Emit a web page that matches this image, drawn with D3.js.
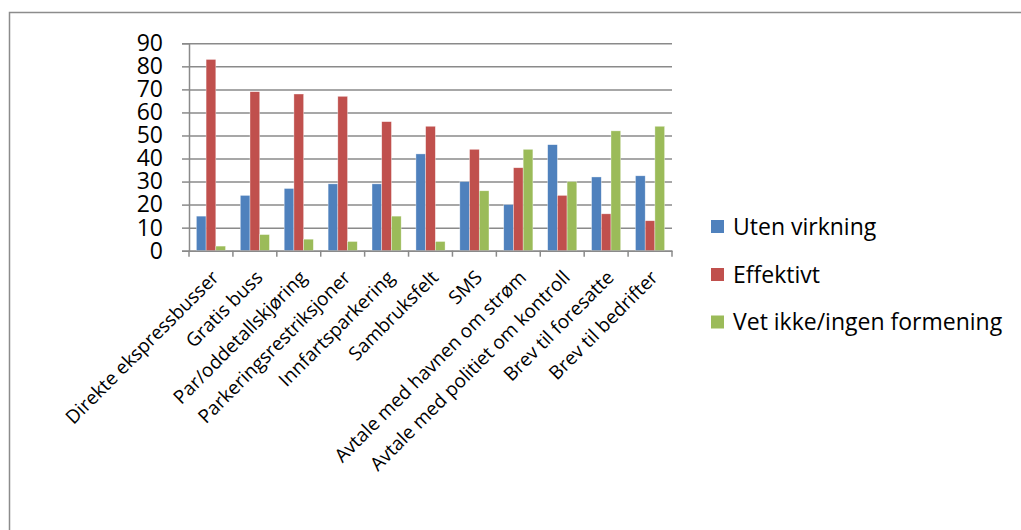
<!DOCTYPE html>
<html>
<head>
<meta charset="utf-8">
<script src="https://cdn.jsdelivr.net/npm/d3@7"></script>
<style>
  html, body { margin: 0; padding: 0; background: #fff; }
  svg { display: block; }
  text { font-family: "Open Sans", sans-serif; fill: #000; }
</style>
</head>
<body>
<svg id="chart" width="1021" height="530"></svg>
<script>
const categories = [
  "Direkte ekspressbusser", "Gratis buss", "Par/oddetallskjøring",
  "Parkeringsrestriksjoner", "Innfartsparkering", "Sambruksfelt", "SMS",
  "Avtale med havnen om strøm", "Avtale med politiet om kontroll",
  "Brev til foresatte", "Brev til bedrifter"
];
const seriesNames = ["Uten virkning", "Effektivt", "Vet ikke/ingen formening"];
const utenVirkning = [15, 24, 27, 29, 29, 42, 30, 20, 46, 32, 32.5];
const effektivt    = [83, 69, 68, 67, 56, 54, 44, 36, 24, 16, 13];
const vetIkke      = [2, 7, 5, 4, 15, 4, 26, 44, 30, 52, 54];
const yTicks = [0, 10, 20, 30, 40, 50, 60, 70, 80, 90];
const colors = ["#4F81BD", "#C0504D", "#9BBB59"];

const series = [utenVirkning, effektivt, vetIkke];
const svg = d3.select("#chart");

// outer chart border (only left/top visible in frame)
svg.append("rect").attr("x", 9.5).attr("y", 12.5).attr("width", 1200).attr("height", 700)
  .attr("fill", "none").attr("stroke", "#8c8c8c").attr("stroke-width", 1.5);

const plot = { left: 189, right: 672, top: 43.3, bottom: 250.7 };

const x0 = d3.scaleBand().domain(categories).range([plot.left, plot.right]).paddingInner(0).paddingOuter(0);
const x1 = d3.scaleBand().domain(d3.range(3)).range([0, x0.bandwidth()]).paddingOuter(0.76).paddingInner(0);
const y = d3.scaleLinear().domain([0, 90]).range([plot.bottom, plot.top]);

const gridColor = "#8a8a8a";

// gridlines + y ticks
const yAxis = d3.axisLeft(y).tickValues(yTicks).tickSize(7).tickPadding(19).tickFormat(d3.format("d"));
const gy = svg.append("g").attr("transform", `translate(${plot.left},0)`).call(yAxis);
gy.select(".domain").attr("stroke", gridColor).attr("stroke-width", 1.5);
gy.selectAll(".tick line").attr("stroke", gridColor).attr("stroke-width", 1.5);
gy.selectAll(".tick text").style("font-size", "23px").attr("fill", "#000");
gy.selectAll(".tick").append("line")
  .attr("x1", 0).attr("x2", plot.right - plot.left)
  .attr("stroke", gridColor).attr("stroke-width", 1.5);

// bars
const gBars = svg.append("g");
categories.forEach((c, i) => {
  series.forEach((s, k) => {
    gBars.append("rect")
      .attr("x", x0(c) + x1(k))
      .attr("y", y(s[i]))
      .attr("width", x1.bandwidth())
      .attr("height", y(0) - y(s[i]))
      .attr("fill", colors[k])
      .attr("stroke", "#ffffff").attr("stroke-opacity", 0.6).attr("stroke-width", 0.6);
  });
});

// x axis
const xAxis = d3.axisBottom(x0).tickSize(0).tickFormat("");
const gx = svg.append("g").attr("transform", `translate(0,${plot.bottom})`).call(xAxis);
gx.select(".domain").attr("stroke", gridColor).attr("stroke-width", 1.5);
gx.selectAll(".tick").remove();
const boundaries = categories.map(c => x0(c)).concat([plot.right]);
gx.selectAll("line.b").data(boundaries).enter().append("line")
  .attr("x1", d => d).attr("x2", d => d).attr("y1", 0).attr("y2", 6)
  .attr("stroke", gridColor).attr("stroke-width", 1.5);

// x labels rotated
svg.append("g").selectAll("text").data(categories).enter().append("text")
  .attr("transform", d => `translate(${x0(d) + x0.bandwidth() / 2 + 9},${plot.bottom + 28}) rotate(-45)`)
  .attr("text-anchor", "end")
  .style("font-size", "19px")
  .text(d => d);

// legend
const lg = svg.append("g");
const legendY = [226.5, 274.5, 322];
seriesNames.forEach((n, k) => {
  lg.append("rect").attr("x", 711).attr("y", legendY[k] - 6.5).attr("width", 13).attr("height", 13).attr("fill", colors[k]);
  lg.append("text").attr("x", 733).attr("y", legendY[k]).attr("dy", "0.36em")
    .style("font-size", "23px").text(n);
});
</script>
</body>
</html>
